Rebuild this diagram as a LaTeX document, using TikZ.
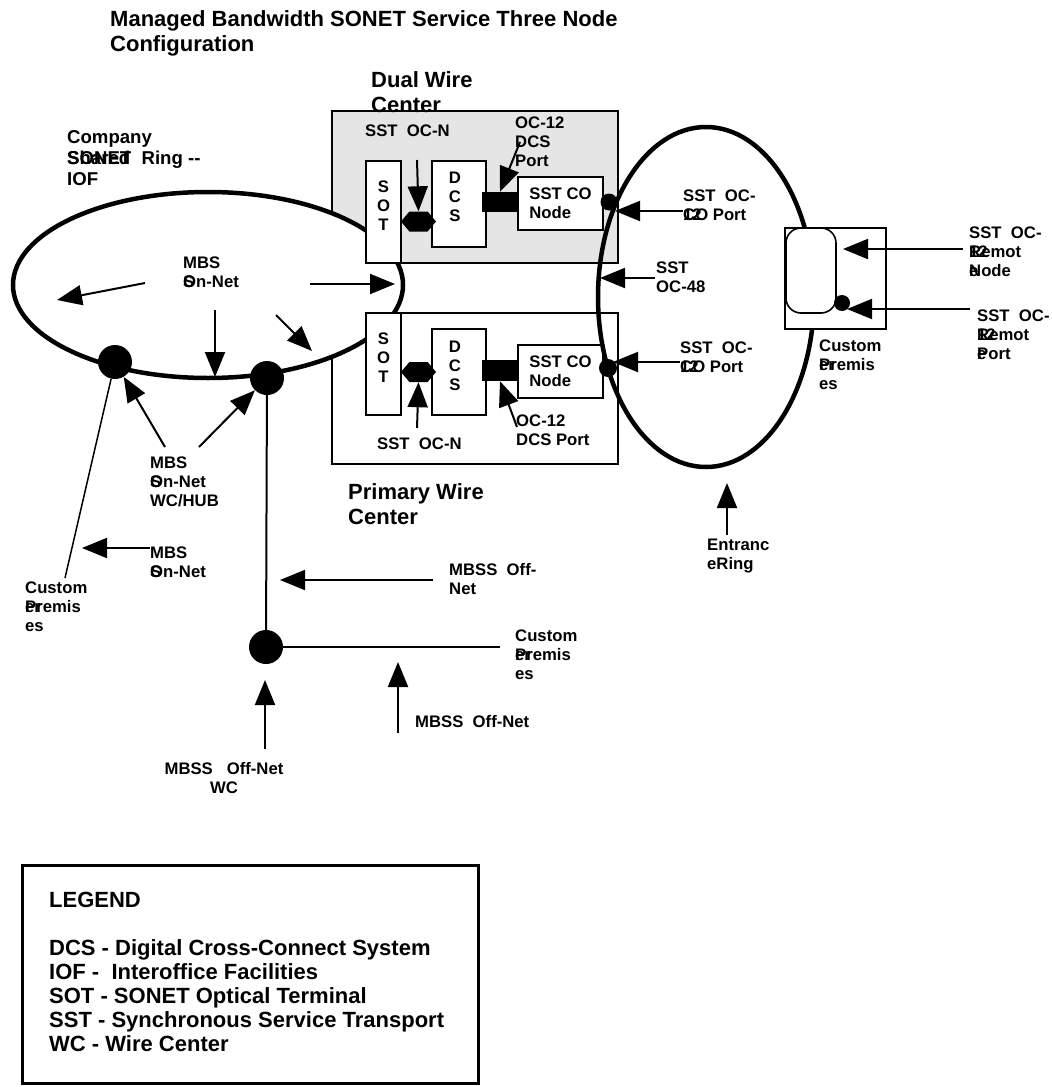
\documentclass[tikz,border=0pt]{standalone}
\usepackage{fontspec}
\setmainfont{Liberation Sans}
\usetikzlibrary{arrows.meta,shapes.symbols,shapes.geometric}

\begin{document}
\begin{tikzpicture}[
    x=1pt, y=-1pt,
    font=\fontsize{16.7}{19}\selectfont\bfseries,
    txt/.style={anchor=north west, inner sep=0pt, align=left},
    bigtxt/.style={txt, font=\fontsize{22}{25}\selectfont\bfseries},
    midtxt/.style={txt, font=\fontsize{18.6}{21}\selectfont\bfseries},
    wirectr/.style={draw, line width=1.6pt, inner sep=0pt, minimum width=286pt},
    unit/.style={draw, line width=1.6pt, fill=white, inner sep=0pt, minimum width=35pt},
    letters/.style={align=center, inner sep=0pt},
    port/.style={fill=black, inner sep=0pt, minimum width=36pt, minimum height=20pt},
    hexa/.style={signal, signal to=east and west, signal pointer angle=100, fill=black,
      inner sep=0pt, minimum width=35pt, minimum height=20pt},
    conode/.style={draw, line width=1.6pt, fill=white, inner sep=0pt, minimum width=85pt,
      minimum height=53pt, align=left},
    dot/.style={circle, fill=black, inner sep=0pt, minimum size=#1},
    dot/.default=34pt,
    ring/.style={draw, ellipse, line width=4.5pt, inner sep=0pt},
    arr/.style={-{Triangle[length=25pt,width=20pt]}, line width=2pt},
    ln/.style={line width=2pt}
  ]
    \useasboundingbox (0,0) rectangle (1052,1087);

    \node[bigtxt] (title) at (110,10)
      {Managed Bandwidth SONET Service Three Node\\Configuration};

    \node[wirectr, fill=gray!20, minimum height=152pt] (dwc) at (475,187) {};
    \node[wirectr, minimum height=151pt] (pwc) at (475,388.5) {};
    \node[bigtxt] (dwclbl) at (371,71) {Dual Wire\\Center};
    \node[bigtxt] (pwclbl) at (348,483) {Primary Wire\\Center};

    \node[ring, fill=white, minimum width=390pt, minimum height=186pt] (iof) at (208,285) {};
    \node[midtxt] (ioflbl) at (67,130) {Company\\\rlap{Shared}SONET~~Ring -{}-\\IOF};

    \node[unit, minimum height=102pt] (sot1) at (383.5,212) {};
    \node[letters] (sot1t) at (383.5,206) {S\\O\\T};
    \node[unit, minimum width=54pt, minimum height=86pt] (dcs1) at (459,204) {};
    \node[letters] (dcs1t) at (455,197) {D\\C\\S};
    \node[hexa] (hex1) at (418.5,221.5) {};
    \node[port] (blk1) at (500,202) {};
    \node[conode] (co1) at (560.5,203.5) {SST CO\\Node};

    \node[unit, minimum height=102pt] (sot2) at (383.5,364) {};
    \node[letters] (sot2t) at (383.5,358) {S\\O\\T};
    \node[unit, minimum width=54pt, minimum height=86pt] (dcs2) at (459,372) {};
    \node[letters] (dcs2t) at (455,366) {D\\C\\S};
    \node[hexa] (hex2) at (418.5,372) {};
    \node[port, minimum height=21pt] (blk2) at (500,370.5) {};
    \node[conode] (co2) at (560.5,371.5) {SST CO\\Node};

    \node[ring, minimum width=216pt, minimum height=340pt] (entr) at (706,297) {};
    \node[dot=17pt] (p1) at (609,202) {};
    \node[dot=18pt] (p2) at (608,368) {};

    \node[draw, line width=1.6pt, fill=white, inner sep=0pt, minimum width=101pt,
      minimum height=101pt] (rbox) at (835.5,278.5) {};
    \node[draw, line width=1.6pt, rounded corners=15pt, inner sep=0pt, minimum width=50pt,
      minimum height=85pt] (rnode) at (811,270.5) {};
    \node[dot=16pt] (rdot) at (842,303) {};

    \node[dot] (d1) at (115,362) {};
    \node[dot] (d2) at (267,378) {};
    \node[dot] (d3) at (266,647) {};

    \node[txt] (sstn1) at (365,125) {SST~~OC-N};
    \node[txt] (dcsp1) at (515,117) {OC-12\\DCS\\Port};
    \node[txt] (sstn2) at (377,438) {SST~~OC-N};
    \node[txt] (dcsp2) at (516,415) {OC-12\\DCS Port};
    \node[txt] (mbs1) at (183,257) {MBS\\\rlap{S}On-Net};
    \node[txt] (mbs2) at (150,457) {MBS\\\rlap{S}On-Net\\WC/HUB};
    \node[txt] (mbs3) at (150,547) {MBS\\\rlap{S}On-Net};
    \node[txt] (cust1) at (25,582) {Custom\\\rlap{er}Premis\\es};
    \node[txt] (mbss1) at (449,563) {MBSS~~Off-\\Net};
    \node[txt] (cust2) at (515,630) {Custom\\\rlap{er}Premis\\es};
    \node[txt] (mbss2) at (415,715) {MBSS~~Off-Net};
    \node[txt, anchor=north, align=center] (mbss3) at (224,762) {MBSS~~~Off-Net\\WC};
    \node[txt] (cop1) at (683,190) {SST~~OC-\\\rlap{12}CO Port};
    \node[txt] (oc48) at (656,262) {SST\\OC-48};
    \node[txt] (cop2) at (680,342) {SST~~OC-\\\rlap{12}CO Port};
    \node[txt] (rnl) at (969,227) {SST~~OC-\\\rlap{12}Remot\\\rlap{e}Node};
    \node[txt] (rpl) at (977,310) {SST~~OC-\\\rlap{12}Remot\\\rlap{e}Port};
    \node[txt] (cust3) at (819,340) {Custom\\\rlap{er}Premis\\es};
    \node[txt] (entl) at (707,539) {Entranc\\eRing};

    \coordinate (t1) at (417,160);
    \coordinate (t2) at (520,142);
    \coordinate (t3) at (417,428);
    \coordinate (t4) at (517,427);
    \coordinate (r1s) at (145,283);  \coordinate (r1e) at (57,300);
    \coordinate (r2s) at (310,284);  \coordinate (r2e) at (395,284);
    \coordinate (r3s) at (215,310);  \coordinate (r3e) at (215,377);
    \coordinate (r4s) at (276,315);  \coordinate (r4e) at (312,351);
    \coordinate (h1s) at (165,447);
    \coordinate (h2s) at (199,447);
    \coordinate (m3s) at (150,548);  \coordinate (m3e) at (82,548);
    \coordinate (o1s) at (433,580);  \coordinate (o1e) at (280,580);
    \coordinate (o2s) at (398,733);  \coordinate (o2e) at (398,662);
    \coordinate (o3s) at (265,749);  \coordinate (o3e) at (265,680);
    \coordinate (e1s) at (727,535);  \coordinate (e1e) at (727,483);
    \coordinate (c1s) at (683,211);  \coordinate (c1e) at (615,211);
    \coordinate (c2s) at (655,278);  \coordinate (c2e) at (600,278);
    \coordinate (c3s) at (680,362);  \coordinate (c3e) at (613,362);
    \coordinate (n1s) at (963,249);  \coordinate (n1e) at (843,249);
    \coordinate (n2s) at (970,309);  \coordinate (n2e) at (847,309);
    \coordinate (cp1e) at (65,578);
    \coordinate (cp2e) at (500,647);

    \draw[arr] (t1) -- (hex1.north);
    \draw[arr] (t2) -- (blk1.north);
    \draw[arr] (t3) -- (hex2.south);
    \draw[arr] (t4) -- (blk2.south);
    \draw[arr] (r1s) -- (r1e);
    \draw[arr] (r2s) -- (r2e);
    \draw[arr] (r3s) -- (r3e);
    \draw[arr] (r4s) -- (r4e);
    \draw[arr] (h1s) -- (d1);
    \draw[arr] (h2s) -- (d2);
    \draw[arr] (m3s) -- (m3e);
    \draw[arr] (o1s) -- (o1e);
    \draw[arr] (o2s) -- (o2e);
    \draw[arr] (o3s) -- (o3e);
    \draw[arr] (e1s) -- (e1e);
    \draw[arr] (c1s) -- (c1e);
    \draw[arr] (c2s) -- (c2e);
    \draw[arr] (c3s) -- (c3e);
    \draw[arr] (n1s) -- (n1e);
    \draw[arr] (n2s) -- (n2e);

    \draw[line width=1.5pt] (d1) -- (cp1e);
    \draw[ln] (d2) -- (d3);
    \draw[ln] (d3) -- (cp2e);

    \node[draw, line width=3pt, inner sep=0pt, minimum width=456pt, minimum height=218pt]
      (legbox) at (250,974) {};
    \node[bigtxt, font=\fontsize{22}{24}\selectfont\bfseries] (legtxt) at (49,892)
      {LEGEND\\[24pt]DCS - Digital Cross-Connect System\\IOF -~~Interoffice Facilities\\
       SOT - SONET Optical Terminal\\SST - Synchronous Service Transport\\WC - Wire Center};
  \end{tikzpicture}
\end{document}
